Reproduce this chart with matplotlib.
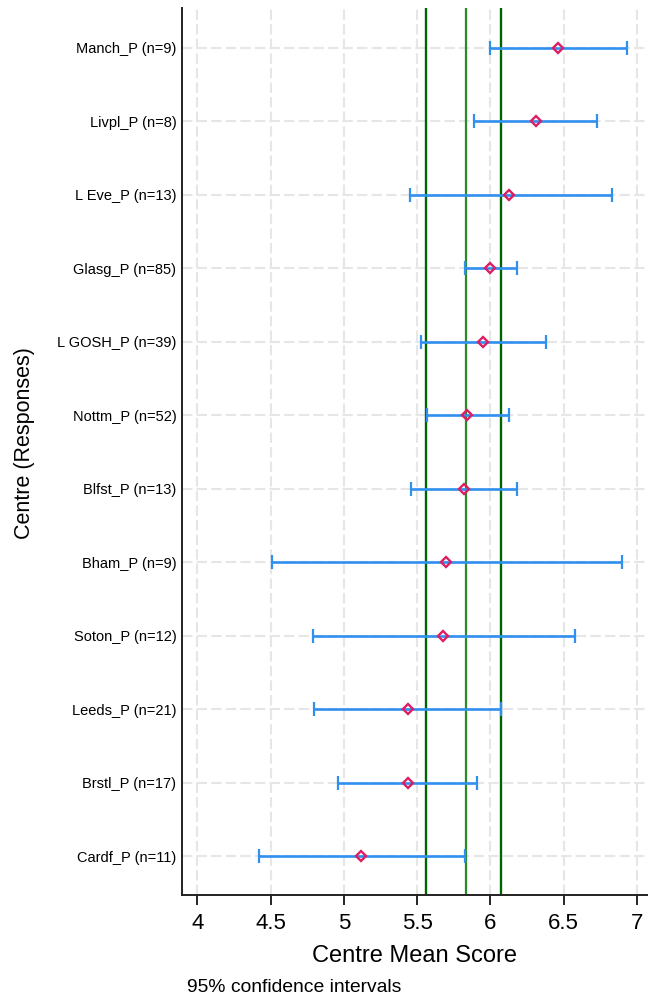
import matplotlib
matplotlib.use("Agg")
import matplotlib.pyplot as plt
import numpy as np

plt.rcParams['font.family'] = ['Liberation Sans', 'DejaVu Sans']

centres = ["Manch_P (n=9)", "Livpl_P (n=8)", "L Eve_P (n=13)", "Glasg_P (n=85)",
           "L GOSH_P (n=39)", "Nottm_P (n=52)", "Blfst_P (n=13)", "Bham_P (n=9)",
           "Soton_P (n=12)", "Leeds_P (n=21)", "Brstl_P (n=17)", "Cardf_P (n=11)"]
means = [6.46, 6.31, 6.13, 6.00, 5.95, 5.84, 5.82, 5.70, 5.68, 5.44, 5.44, 5.12]
ci_low = [6.00, 5.89, 5.45, 5.83, 5.53, 5.57, 5.46, 4.51, 4.79, 4.80, 4.96, 4.42]
ci_high = [6.93, 6.73, 6.83, 6.18, 6.38, 6.13, 6.18, 6.90, 6.58, 6.07, 5.91, 5.83]
ref_lines = [5.56, 5.835, 6.07]
xticks = [4, 4.5, 5, 5.5, 6, 6.5, 7]
xtick_labels = ["4", "4.5", "5", "5.5", "6", "6.5", "7"]

W, H = 648, 997
fig = plt.figure(figsize=(W / 100, H / 100), dpi=100)
ax = fig.add_axes([182 / W, 1 - 895 / H, 1 - 182 / W, (895 - 8) / H])

y = np.arange(len(centres))
means_a = np.array(means)
lo = means_a - np.array(ci_low)
hi = np.array(ci_high) - means_a

# grid
for xt in xticks:
    ax.axvline(xt, color='#e6e6e6', lw=1.5, ls=(0, (5, 2)), zorder=0)
for yy in y:
    ax.axhline(yy, color='#e6e6e6', lw=1.5, ls=(0, (5, 2)), zorder=0)

# reference lines
ax.axvline(ref_lines[0], color='#006400', lw=1.7, zorder=1)
ax.axvline(ref_lines[1], color='#2a8a2a', lw=1.6, zorder=1)
ax.axvline(ref_lines[2], color='#006400', lw=1.7, zorder=1)

ax.errorbar(means, y, xerr=[lo, hi], fmt='none', ecolor='#3090f0',
            elinewidth=1.9, capsize=5, capthick=1.6, zorder=3)
ax.plot(means, y, linestyle='none', marker='D', ms=5, mfc='none',
        mec='#dc1e64', mew=1.7, zorder=4)

ax.set_xlim(3.8956, 7.0765)
ax.set_ylim(11.53, -0.54)
ax.set_yticks(y)
ax.set_yticklabels(centres, fontsize=10.5)
ax.set_xticks(xticks)
ax.set_xticklabels(xtick_labels, fontsize=16)
ax.tick_params(axis='y', length=0, pad=4)
ax.tick_params(axis='x', length=7, width=1.2, pad=6, direction='out')

for s in ['top', 'right']:
    ax.spines[s].set_visible(False)
for s in ['left', 'bottom']:
    ax.spines[s].set_linewidth(1.4)
    ax.spines[s].set_color('#222222')

ax.set_xlabel("Centre Mean Score", fontsize=17, labelpad=8)
fig.text(25 / W, 1 - 443 / H, "Centre (Responses)", rotation=90,
         fontsize=15.5, ha='center', va='center')
fig.text(187 / W, 1 - 992 / H, "95% confidence intervals", fontsize=13.9,
         ha='left', va='baseline')

fig.savefig("out.png", dpi=100)
